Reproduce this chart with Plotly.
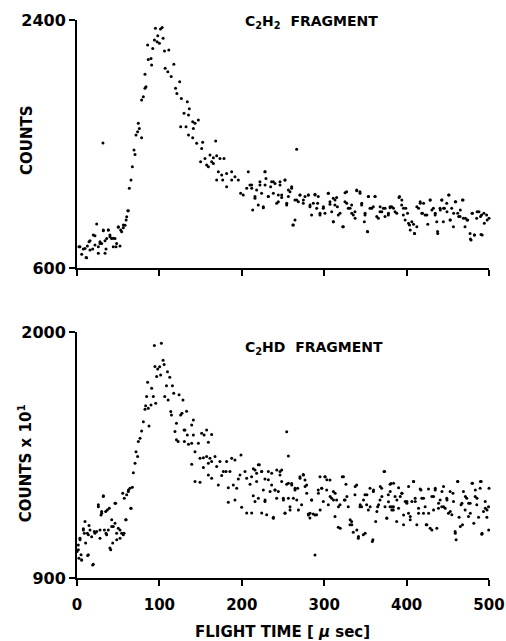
import plotly.graph_objects as go

# ---------------- data ----------------
# Top panel: C2H2 fragment, counts vs flight time (microseconds)
top_t = [
    2.4, 5.7, 9.7, 11.7, 14.6, 15.8, 19.8, 21.8, 23.9, 25.9, 27.9, 29.9, 31.5, 31.9, 34, 36, 38, 40, 42, 44,
    46.1, 48.1, 50.1, 52.2, 54.2, 56.2, 58.3, 60.3, 62.3, 63.5, 65.5, 67.2, 69.2, 70.4, 71.6, 73.6, 74.4, 75.6,
    78.4, 78.4, 80.5, 82.5, 82.5, 83.7, 85.7, 86.5, 89.8, 90.6, 91.9, 94, 95.2, 97.2, 98, 100, 101.3, 103.3,
    104.5, 106.2, 107, 110.2, 111.4, 114.3, 117.5, 119.6, 121.2, 124.6, 125.8, 126.6, 129.9,
    3.6, 7.7, 12.6, 11, 15.8, 19, 21.8, 25.9, 27.9, 31.9, 34, 35.2, 38, 40, 44.1, 47.4, 50.2, 53, 56.3, 59.6, 61.7,
    133.9, 136.3, 135.3, 132.3, 140.4, 143.2, 147.3, 141.2, 135.3, 140.4, 145.2, 152.5, 151.3, 168.3, 150, 155.3,
    157.3, 161.4, 163.4, 165.5, 169.5, 173.5, 178.4, 159.4, 165.5, 171.5, 175.6, 181.6, 187.7, 169.5, 176.8,
    181.6, 187.7, 191.7, 195.8, 198.6, 201.8, 207.9, 209.9, 212, 206, 213.2, 216, 220, 222, 226.1, 228.1, 229.3,
    232.2, 235, 238.3, 242.3, 244.3, 246.4, 248.4, 252.4, 254.5, 256.5,
    260.5, 256.5, 264.5, 268.6, 270.6, 274.6, 280.7, 282.7, 284.7, 288.8, 292.8, 292, 294.9, 298.9, 300.9, 304.9,
    307, 311, 313, 315.1, 311, 317.1, 323.2, 325.2, 327.2, 329.2, 333.3, 335.3, 337.3, 339.4, 343.4, 345.4,
    349.5, 348.7, 352.7, 353.6, 355.6, 359.6, 361.6, 365.7, 367.7, 371.8, 373.8, 377.8, 381.9, 266.6, 262,
    380, 386, 390.8, 394, 396, 399, 402.3, 404.4, 408.4, 409.6, 412.4, 414.5, 416.5, 419.3, 422.5, 425.7, 428.5,
    432.5, 434.6, 436.6, 437.8, 440.6, 442.6, 444.6, 445.9, 448.7, 451.5, 452.7, 454.7, 456.8, 459.6, 462, 464.9,
    467.7, 468.9, 470.9, 474.1, 477, 478.2, 479.8, 482.2, 485, 487.8, 490.3, 491, 494.3, 497.1, 500,
    212, 218, 216, 222, 224, 228.2, 228.2, 226.1, 232.2, 236.2, 238.3, 240.3, 244.3, 246.4, 248.4, 252.4, 254.5,
    258.5, 260.5, 262.5, 264.6, 266.6, 270.6, 274.7, 276.7, 280.8, 282.8, 286.8, 288.9, 290.9, 294.9, 299, 305,
    307, 309.1, 311.1, 313.1, 316, 319.2, 322.5, 325.3, 327.3, 331.4, 333.4, 337.5, 339.5, 343.5, 345.6, 349.6,
    352.5, 353.7, 357.7, 361.8, 363.8, 367.9, 369.9, 373.9, 378, 380, 384.1, 388.1, 391.4, 394.2, 396.2, 398.2,
    401.1, 403.5, 406.3, 409.6, 412.4, 416.5, 418.5, 420.6, 424.6, 428.7, 430.7, 434.8, 437.6, 440.9, 442.9,
    444.9, 449, 451, 453.1, 457.1, 459.1, 463.2, 465.2, 468.5, 471.4, 473.4, 477.5, 479.5, 482.4, 485.6, 489.7,
    491.7, 493.8, 497.8,
]
top_counts = [
    754, 699, 742, 674, 790, 730, 839, 766, 919, 706, 790, 778, 1507, 870, 706, 814, 875, 827, 814, 754,
    814, 778, 895, 759, 863, 892, 911, 972, 1016, 1178, 1238, 1335, 1456, 1424, 1565, 1589, 1650, 1613,
    1545, 1819, 1843, 1904, 2006, 1916, 2218, 2114, 2121, 2073, 2194, 2255, 2340, 2243, 2286, 2231, 2335, 2345,
    2267, 2175, 2049, 2025, 2182, 1989, 2078, 1904, 1867, 1952, 1626, 1831, 1723,
    754, 737, 760, 676, 797, 737, 834, 754, 778, 875, 797, 737, 875, 839, 815, 754, 899, 875, 912, 948, 1016,
    1807, 1755, 1711, 1626, 1662, 1650, 1674, 1613, 1565, 1545, 1505, 1512, 1468, 1521, 1371, 1395,
    1347, 1420, 1371, 1400, 1414, 1395, 1395, 1335, 1359, 1299, 1274, 1286, 1299, 1238, 1238,
    1190, 1238, 1262, 1238, 1142, 1130, 1299, 1202, 1178, 1178, 1021, 1118, 1057, 1202, 1038, 1299, 1250,
    1118, 1190, 1226, 1069, 1130, 1202, 1111, 1238, 1057, 1166,
    1178, 1118, 1094, 1081, 1130, 1069, 1130, 1045, 985, 1135, 1118, 1069, 985, 1033, 997, 1142,
    1062, 1106, 1057, 1111, 936, 985, 900, 1081, 1154, 1033, 1057, 985, 1009, 1166, 1154, 1057,
    985, 936, 863, 1118, 1033, 1045, 1118, 961, 1009, 1033, 973, 985, 1045, 1461, 912,
    1038, 1009, 1111, 1057, 985, 1033, 924, 876, 917, 851, 900, 1033, 1069, 997, 985, 917, 1094,
    1033, 985, 936, 851, 1033, 1094, 936, 1033, 1069, 1130, 948, 1033, 900, 1081, 997, 973,
    1094, 961, 900, 948, 851, 803, 997, 839, 961, 1009, 843, 985, 924, 985, 961,
    1202, 1166, 1106, 1226, 1142, 1299, 1202, 1045, 1118, 1226, 1142, 1214, 1081, 1226, 1130, 1238, 1069,
    1154, 1190, 912, 948, 1093, 1130, 1093, 1118, 1130, 1057, 1069, 1130, 1033, 997, 1045, 1142,
    1081, 1009, 936, 1093, 1045, 997, 900, 1146, 1069, 1033, 997, 961, 1161, 1142, 1069, 997,
    864, 1118, 1033, 1118, 973, 1045, 1009, 1033, 997, 1045, 1033, 997, 1118, 1093, 1033, 948,
    997, 912, 936, 851, 1045, 1081, 997, 1069, 985, 1093, 1021, 997, 864, 1021, 1093,
    1033, 1009, 1130, 948, 997, 1081, 973, 1021, 1093, 961, 948, 810, 997, 839, 1009, 973,
    839, 997, 948,
]

# Bottom panel: C2HD fragment, counts x 10 vs flight time (microseconds)
bot_t = [
    0, 1.6, 3.6, 2.4, 5.7, 4.9, 8.9, 10.5, 7.7, 12.9, 14.6, 13.8, 17.8, 19.8, 21, 23.9, 25.9, 27.9, 29.1, 29.9,
    31.9, 33.2, 34.8, 36, 38, 39.2, 40.9, 42.1, 43.3, 44, 46.1, 46.9, 48.1, 50.1, 52.2, 54.2, 56.2, 57.4, 59.1,
    60.3, 62.3, 64.3, 65.5, 67.2, 68.4, 70.4, 71.6, 73.6, 74.4, 76.5, 78.4, 80.5, 82.5, 84.5, 85.7, 87.4, 83.3,
    86.5, 89.8, 90.6, 92.6, 93.9, 95.5, 94.6, 96.7, 97.9, 99.5, 100.3, 102.4, 101.5, 104.5, 105.7, 106.5, 108.6,
    109.8, 110.6, 112.6, 113.8, 114.6, 115.8, 117.4, 118.9, 120.7, 120.7, 122.7, 123.9, 125.8, 127.4, 128.6, 129.9,
    1.6, 3.6, 5.7, 7.7, 9.7, 12.6, 13.8, 15.8, 19, 21.8, 25.9, 27.9, 29.9, 32, 35.2, 36.8, 40, 42.1, 46.1, 48.2,
    52.2, 55.5, 57.1, 59.6, 62.4, 65.4,
    133, 131, 133.9, 139.2, 141.2, 141.2, 130.3, 135.3, 139.2, 143.2, 147.3, 151.3, 154.3, 157.3, 159.4, 163.4,
    149.3, 153.4, 157.3, 161.4, 139.2, 153.4, 159.4, 163.4, 167.5, 169.5, 173.5, 177.6, 181.6, 185.6, 187.7,
    191.7, 199, 143.2, 149.3, 159.4, 163.4, 171.5, 175.6, 180.8, 183.6, 189.7, 193.8, 195.8, 197.8, 203.9, 205.9,
    210, 214, 218, 221.3, 224.1, 228.1, 232.2, 236.2, 240.3, 244.3, 246.4, 248.4, 183.6, 191.7, 199.8, 205.9,
    212, 216, 220.1, 224.1, 230.2, 238.3, 228.1, 242.3, 250.4, 252.4, 254.5, 256.5,
    254.5, 256.5, 258.5, 260.5, 262.6, 264.6, 267.8, 270.6, 272.6, 274.6, 276.7, 278.7, 280.7, 282.7, 284.7,
    286.8, 288.8, 290.8, 292.8, 294.9, 296.9, 298.9, 300.9, 303, 305, 307, 309, 311.1, 313.1, 315.1, 317.1,
    319.2, 322, 324.4, 326.4, 329.2, 331.3, 333.3, 335.3, 337.3, 339.4, 341.4, 343.4, 345.4, 347.5, 349.5,
    351.5, 353.6, 355.6, 358.4, 359.6, 362.5, 364.9, 367.7, 369.7, 372.6, 373.8, 375.8, 377.8, 379.9, 381.1, 383.9,
    378, 380, 382, 384, 386, 388, 390.3, 392.3, 394.3, 396.3, 398.3, 400.3, 402.3, 404.4, 406.4, 408.4, 410.4,
    412.4, 414.5, 416.5, 418.5, 420.5, 422.5, 424.6, 426.6, 428.6, 430.7, 432.7, 434.7, 436.7, 438.7, 440.7,
    442.7, 444.8, 446.8, 448.8, 450.8, 452.8, 454.9, 456.9, 458.9, 460.1, 462.1, 463.7, 466.1, 467.8, 469, 471,
    473, 475.1, 477.1, 480, 481.6, 483.2, 485.2, 487.3, 489.3, 490.5, 491.3, 493.3, 495.4, 497.4, 499.4,
    211.9, 213.9, 216, 218, 220, 224.1, 226.1, 228.2, 232.2, 234.3, 236.3, 238.3, 240.3, 242.4, 246.4, 248.4,
    250.5, 252.5, 256.5, 258.6, 260.6, 264.6, 266.7, 268.7, 270.7, 274.8, 276.8, 278.8, 280.9, 282.9, 284.9,
    289, 293, 295.1, 297.1, 301.1, 303.2, 307.2, 311.3, 313.3, 317.3, 319.4, 323.4, 325.4, 327.5, 331.5, 333.5,
    337.6, 339.6, 341.6, 343.7, 347.7, 349.7, 351.8, 355.8, 359.1, 359.9, 363.9, 366, 368, 370, 373.3, 376.1,
    380.1, 382.1, 384.2, 388.2, 390.2, 394.3, 396.3, 400.4, 402.4, 404.4, 408.5, 410.5, 414.5, 417.4, 420.6,
    423.8, 426.7, 430.7, 432.7, 434.8, 438.8, 442.9, 444.9, 449, 453, 456.3, 459.1, 462, 465.2, 467.2, 471.3,
    475.3, 477.3, 479.4, 483.4, 485.4, 489.5, 491.5, 495.6, 497.6, 499.6, 500,
]
bot_counts = [
    1018, 1048, 1078, 988, 981, 1004, 1100, 1056, 1120, 1001, 1135, 1093, 1085, 962, 1108, 1108, 1219, 1078, 1182, 1197,
    1264, 1115, 1197, 1093, 1115, 1212, 1026, 1160, 1056, 1130, 1145, 1234, 1100, 1123, 1078, 1100, 1093, 1257, 1160,
    1272, 1287, 1301, 1212, 1306, 1371, 1413, 1465, 1443, 1510, 1525, 1557, 1599, 1654, 1711, 1775, 1580, 1670,
    1659, 1674, 1748, 1711, 1939, 1681, 1846, 1801, 1834, 2027, 1845, 1950, 1808, 1874, 1855, 1711, 1760,
    1822, 1696, 1798, 1644, 1629, 1760, 1726, 1555, 1592, 1518, 1510, 1719, 1629, 1637, 1696, 1562,
    1026, 1071, 981, 1115, 1153, 1100, 1004, 1115, 958, 1100, 1227, 1115, 1190, 1268, 1100, 1204, 1034, 1130, 1234, 1071,
    1115, 1279, 1100, 1160, 1294, 1212,
    1646, 1562, 1539, 1584, 1606, 1539, 1510, 1498, 1503, 1465, 1503, 1547, 1539, 1562, 1507, 1542,
    1435, 1438, 1443, 1435, 1409, 1394, 1413, 1421, 1443, 1398, 1421, 1376, 1421, 1376, 1435,
    1428, 1450, 1331, 1328, 1361, 1346, 1316, 1358, 1376, 1304, 1316, 1301, 1343, 1361, 1376, 1346,
    1319, 1388, 1368, 1406, 1376, 1343, 1376, 1316, 1294, 1287, 1376, 1331, 1239, 1249, 1216, 1191,
    1191, 1242, 1257, 1191, 1183, 1172, 1242, 1257, 1257, 1191, 1554, 1446,
    1319, 1257, 1219, 1322, 1257, 1301, 1301, 1353, 1227, 1363, 1338, 1316, 1186, 1168, 1249,
    1186, 1003, 1183, 1294, 1353, 1301, 1242, 1353, 1294, 1227, 1338, 1257, 1287, 1175, 1249, 1127,
    1227, 1353, 1249, 1319, 1219, 1138, 1153, 1105, 1272, 1316, 1078, 1219, 1219, 1093, 1272,
    1227, 1204, 1301, 1063, 1287, 1153, 1219, 1249, 1301, 1376, 1219, 1168, 1272, 1219, 1322, 1204,
    1241, 1319, 1204, 1219, 1264, 1153, 1304, 1264, 1279, 1138, 1242, 1234, 1190, 1160, 1242, 1331, 1257,
    1138, 1190, 1298, 1257, 1190, 1219, 1138, 1298, 1123, 1264, 1204, 1294, 1123, 1212, 1249,
    1219, 1309, 1212, 1257, 1190, 1287, 1183, 1242, 1108, 1071, 1331, 1172, 1227, 1138, 1287, 1204,
    1257, 1175, 1234, 1324, 1145, 1264, 1227, 1172, 1301, 1331, 1096, 1197, 1242, 1172, 1219,
    1353, 1268, 1383, 1331, 1406, 1376, 1294, 1249, 1339, 1287, 1368, 1167, 1294, 1383, 1361, 1383,
    1249, 1190, 1324, 1204, 1316, 1294, 1249, 1204, 1346, 1361, 1309, 1279, 1182, 1190, 1249,
    1182, 1279, 1204, 1301, 1353, 1339, 1264, 1249, 1279, 1219, 1123, 1353, 1249, 1264, 1160, 1138,
    1309, 1115, 1086, 1227, 1249, 1100, 1272, 1219, 1071, 1294, 1197, 1227, 1309, 1264, 1376, 1167,
    1287, 1219, 1324, 1249, 1212, 1279, 1182, 1242, 1309, 1175, 1331, 1242, 1212, 1294, 1257,
    1138, 1190, 1115, 1264, 1301, 1234, 1287, 1219, 1249, 1197, 1279, 1100, 1331, 1130, 1234, 1264,
    1234, 1190, 1324, 1294, 1257, 1331, 1100, 1212, 1204, 1115, 1301,
]

x_ticks = [0, 100, 200, 300, 400, 500]
top_yticks = [600, 2400]
bot_yticks = [900, 2000]

# ---------------- figure ----------------
FONT = "DejaVu Sans"
marker = dict(color="black", size=3)

fig = go.Figure()
fig.add_trace(go.Scatter(x=top_t, y=top_counts, mode="markers", marker=marker,
                         xaxis="x2", yaxis="y2", cliponaxis=False, showlegend=False))
fig.add_trace(go.Scatter(x=bot_t, y=bot_counts, mode="markers", marker=marker,
                         xaxis="x", yaxis="y", cliponaxis=False, showlegend=False))

axis_common = dict(showline=True, linecolor="black", linewidth=2, ticks="outside",
                   ticklen=6, tickwidth=2, tickcolor="black", showgrid=False, zeroline=False,
                   automargin=False)
xfont = dict(family=FONT, size=15, color="black", weight="bold")
yfont = dict(family=FONT, size=16, color="black", weight="bold")

fig.update_layout(
    width=506, height=641,
    margin=dict(l=77, r=17, t=20, b=63, autoexpand=False),
    paper_bgcolor="white", plot_bgcolor="white",
    xaxis=dict(domain=[0, 1], anchor="y", range=[0, 500], tickvals=x_ticks,
               ticklabelstandoff=6, tickfont=xfont, **axis_common),
    yaxis=dict(domain=[0, 0.4409], anchor="x", range=[900, 2000], tickvals=bot_yticks,
               tickfont=yfont, **axis_common),
    xaxis2=dict(domain=[0, 1], anchor="y2", range=[0, 500], tickvals=x_ticks,
                showticklabels=False, tickfont=xfont, **axis_common),
    yaxis2=dict(domain=[0.5556, 1], anchor="x2", range=[600, 2400], tickvals=top_yticks,
                tickfont=yfont, **axis_common),
)

lab = dict(family=FONT, size=14, color="black", weight="bold")
big = dict(family=FONT, size=15, color="black", weight="bold")
fig.add_annotation(text="COUNTS", xref="paper", yref="paper", x=-0.1214, y=0.785,
                   textangle=-90, showarrow=False, font=big, xanchor="center", yanchor="middle")
fig.add_annotation(text="COUNTS x 10<sup>1</sup>", xref="paper", yref="paper", x=-0.126, y=0.206,
                   textangle=-90, showarrow=False, font=big, xanchor="center", yanchor="middle")
fig.add_annotation(text="FLIGHT TIME [ <i>µ</i> sec]", xref="paper", yref="paper", x=0.4976, y=-0.0968,
                   showarrow=False, font=big, xanchor="center", yanchor="middle")
fig.add_annotation(text="C<sub>2</sub>H<sub>2</sub>  FRAGMENT", xref="paper", yref="paper", x=0.403, y=0.9964,
                   showarrow=False, font=lab, xanchor="left", yanchor="middle")
fig.add_annotation(text="C<sub>2</sub>HD  FRAGMENT", xref="paper", yref="paper", x=0.403, y=0.412,
                   showarrow=False, font=lab, xanchor="left", yanchor="middle")

fig.write_html("out.html")
